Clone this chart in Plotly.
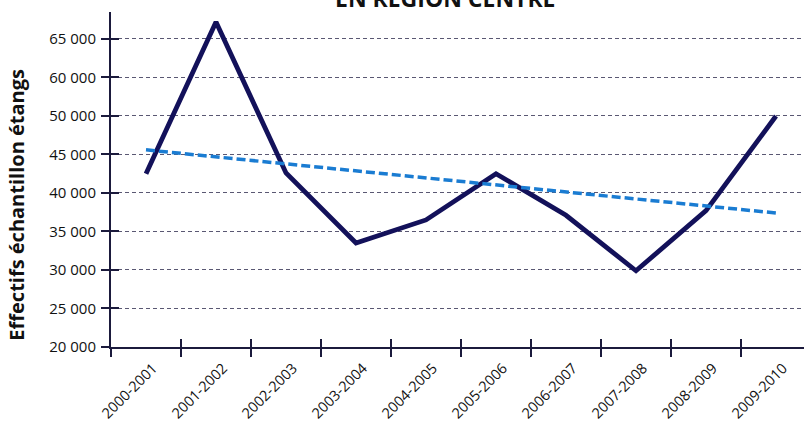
import plotly.graph_objects as go

seasons = ["2000-2001", "2001-2002", "2002-2003", "2003-2004", "2004-2005",
           "2005-2006", "2006-2007", "2007-2008", "2008-2009", "2009-2010"]
effectifs = [42500, 62200, 42600, 33500, 36500, 42500, 37100, 29900, 37700, 50000]
trend_ends = [45600, 37400]

ytick_vals = [20000, 25000, 30000, 35000, 40000, 45000, 50000, 55000, 60000]
ytick_text = ["20 000", "25 000", "30 000", "35 000", "40 000", "45 000",
              "50 000", "60 000", "65 000"]

navy = "#13115a"
axis_col = "#1b1a3c"
font_fam = "Open Sans, Noto Sans, sans-serif"

fig = go.Figure()
fig.add_trace(go.Scatter(x=seasons, y=effectifs, mode="lines",
                         line=dict(color=navy, width=4.8), showlegend=False))
fig.add_trace(go.Scatter(x=[seasons[0], seasons[-1]], y=trend_ends, mode="lines",
                         line=dict(color="#1a7cd2", width=3.5, dash="9px,4px"),
                         showlegend=False))
# invisible trace to activate overlay axes (inside tick marks)
fig.add_trace(go.Scatter(x=[0], y=[ytick_vals[0]], xaxis="x2", yaxis="y2",
                         mode="markers", marker=dict(opacity=0), showlegend=False,
                         hoverinfo="skip"))

yr = [20000, 63500]
xr = [-0.5, 9.4]

fig.update_layout(
    width=804, height=424,
    margin=dict(l=111, r=0, t=12, b=77, autoexpand=False),
    paper_bgcolor="white", plot_bgcolor="white",
    font=dict(family=font_fam, size=15, color="#111"),
    xaxis=dict(type="category", range=xr, tickson="boundaries", automargin=False,
               ticks="outside", ticklen=8, tickwidth=1.5, tickcolor=axis_col,
               ticklabelstandoff=5, ticklabelshift=7,
               showline=True, linecolor=axis_col, linewidth=2,
               showgrid=False, tickangle=-45, tickfont=dict(size=14.5)),
    xaxis2=dict(overlaying="x", anchor="y", range=xr, automargin=False,
                tickvals=[i - 0.5 for i in range(len(seasons))],
                ticks="inside", ticklen=8, tickwidth=1.5, tickcolor=axis_col,
                showticklabels=False, showgrid=False, showline=False, zeroline=False),
    yaxis=dict(range=yr, tickvals=ytick_vals, ticktext=ytick_text, automargin=False,
               ticks="outside", ticklen=8, tickwidth=1.5, tickcolor=axis_col,
               ticklabelstandoff=2,
               showline=True, linecolor=axis_col, linewidth=2,
               showgrid=True, gridcolor="#5a5873", gridwidth=1, griddash="4px,3px",
               zeroline=False, tickfont=dict(size=15)),
    yaxis2=dict(overlaying="y", anchor="x", range=yr, tickvals=ytick_vals,
                automargin=False,
                ticks="inside", ticklen=8, tickwidth=1.5, tickcolor=axis_col,
                showticklabels=False, showgrid=False, showline=False, zeroline=False),
    annotations=[
        dict(text="<b>EN RÉGION CENTRE</b>", xref="paper", yref="paper",
             x=0.482, y=0.988, xanchor="center", yanchor="bottom", showarrow=False,
             font=dict(size=23, color="#111", family=font_fam)),
        dict(text="<b>Effectifs échantillon étangs</b>", xref="paper", yref="paper",
             x=-0.1356, y=0.425, xanchor="center", yanchor="middle", textangle=-90,
             showarrow=False, font=dict(size=20, color="#111", family=font_fam)),
    ],
)

fig.write_html("out.html", config={"displayModeBar": False},
               post_script="document.body.style.margin='0';")
